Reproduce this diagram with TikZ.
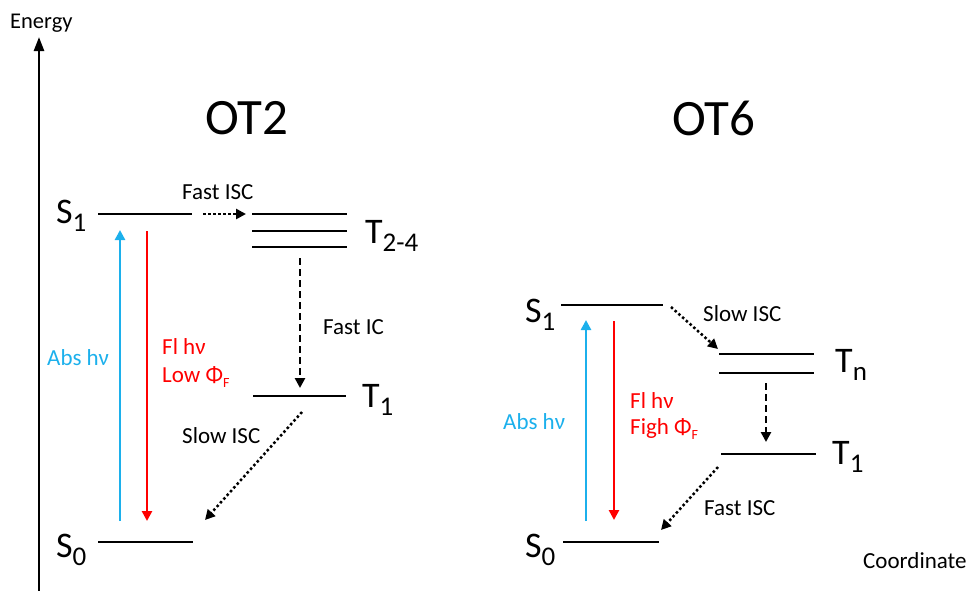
\documentclass[tikz,border=0pt]{standalone}
\usepackage{fontspec}
\setmainfont{Carlito}
\usetikzlibrary{arrows.meta}
\definecolor{absblue}{RGB}{28,176,236}
\definecolor{flred}{RGB}{255,0,0}
\newcommand\lvsub[1]{\raisebox{-8pt}{\fontsize{27}{29}\selectfont #1}}
\newcommand\phisub[1]{\raisebox{-5pt}{\fontsize{14}{16}\selectfont #1}}
\begin{document}
\begin{tikzpicture}[x=1pt,y=-1pt,
  level/.style={line width=2.8pt},
  lab/.style={font=\fontsize{23}{27}\selectfont, inner sep=0pt, anchor=base west},
  statelab/.style={font=\fontsize{36}{40}\selectfont, inner sep=0pt, anchor=base west},
  titlelab/.style={font=\fontsize{51}{56}\selectfont, inner sep=0pt},
  tipa/.style={-{Triangle[length=10pt,width=10pt]}},
  dotarrow/.style={tipa, line width=2.5pt, dash pattern=on 2.5pt off 2.5pt},
  dasharrow/.style={tipa, line width=2.5pt, dash pattern=on 7pt off 4pt},
  absarrow/.style={tipa, line width=2.8pt, draw=absblue},
  flarrow/.style={tipa, line width=2.8pt, draw=flred},
]
\useasboundingbox (0,0) rectangle (966,590);

% axis
\coordinate (axb) at (39,592);
\coordinate (axt) at (39,37);
\draw[line width=2.5pt, -{Triangle[length=14pt,width=10pt]}] (axb) -- (axt);
\node[lab, font=\fontsize{22.5}{26}\selectfont] (energy) at (10,28) {Energy};
\node[lab] (coord) at (863,568) {Coordinate};

% titles
\node[titlelab] (ot2) at (247,118) {OT2};
\node[titlelab] (ot6) at (714,118) {OT6};

% ---------- OT2 ----------
\coordinate (as1l) at (98,214);  \coordinate (as1r) at (192,214);
\coordinate (ats1l) at (252,214); \coordinate (ats1r) at (347,214);
\coordinate (ats2l) at (252,231); \coordinate (ats2r) at (347,231);
\coordinate (ats3l) at (252,247); \coordinate (ats3r) at (347,247);
\coordinate (at1l) at (253,396); \coordinate (at1r) at (346,396);
\coordinate (as0l) at (98,542);  \coordinate (as0r) at (193,542);
\foreach \a/\b in {as1l/as1r, ats1l/ats1r, ats2l/ats2r, ats3l/ats3r, at1l/at1r, as0l/as0r}
  \draw[level] (\a) -- (\b);

\node[statelab] (aS1) at (56,223) {S\lvsub{1}};
\node[statelab] (aT24) at (365,243) {T\lvsub{2-4}};
\node[statelab] (aT1) at (362,407) {T\lvsub{1}};
\node[statelab] (aS0) at (56,557) {S\lvsub{0}};

\coordinate (afs) at (203,214); \coordinate (afe) at (246,214);
\draw[dotarrow] (afs) -- (afe);
\node[lab] (afisc) at (182,199) {Fast ISC};

\coordinate (aics) at (300,258); \coordinate (aice) at (300,388);
\draw[dasharrow] (aics) -- (aice);
\node[lab] (afic) at (323,334) {Fast IC};

\coordinate (asis) at (302,412); \coordinate (asie) at (205,520);
\draw[dotarrow] (asis) -- (asie);
\node[lab] (asisc) at (182,443) {Slow ISC};

\coordinate (aabs0) at (120,521); \coordinate (aabs1) at (120,230);
\draw[absarrow] (aabs0) -- (aabs1);
\coordinate (afl0) at (147,231); \coordinate (afl1) at (147,521);
\draw[flarrow] (afl0) -- (afl1);
\node[lab, text=absblue] (aabs) at (47,365) {Abs hν};
\node[lab, text=flred] (afl) at (162,354) {Fl hν};
\node[lab, text=flred] (alow) at (162,382) {Low Φ\phisub{F}};

% ---------- OT6 ----------
\coordinate (bs1l) at (561,305); \coordinate (bs1r) at (663,305);
\coordinate (btn1l) at (719,354); \coordinate (btn1r) at (814,354);
\coordinate (btn2l) at (719,373); \coordinate (btn2r) at (814,373);
\coordinate (bt1l) at (721,454); \coordinate (bt1r) at (816,454);
\coordinate (bs0l) at (563,542); \coordinate (bs0r) at (659,542);
\foreach \a/\b in {bs1l/bs1r, btn1l/btn1r, btn2l/btn2r, bt1l/bt1r, bs0l/bs0r}
  \draw[level] (\a) -- (\b);

\node[statelab] (bS1) at (525,322) {S\lvsub{1}};
\node[statelab] (bTn) at (835,372) {T\lvsub{n}};
\node[statelab] (bT1) at (832,464) {T\lvsub{1}};
\node[statelab] (bS0) at (525,557) {S\lvsub{0}};

\coordinate (bsis) at (671,307); \coordinate (bsie) at (718,349);
\draw[dotarrow] (bsis) -- (bsie);
\node[lab] (bsisc) at (703,321) {Slow ISC};

\coordinate (bics) at (766,383); \coordinate (bice) at (766,442);
\draw[dasharrow] (bics) -- (bice);

\coordinate (bfis) at (718,467); \coordinate (bfie) at (661,530);
\draw[dotarrow] (bfis) -- (bfie);
\node[lab] (bfisc) at (704,515) {Fast ISC};

\coordinate (babs0) at (586,521); \coordinate (babs1) at (586,320);
\draw[absarrow] (babs0) -- (babs1);
\coordinate (bfl0) at (614,321); \coordinate (bfl1) at (614,520);
\draw[flarrow] (bfl0) -- (bfl1);
\node[lab, text=absblue] (babs) at (503,429) {Abs hν};
\node[lab, text=flred] (bfl) at (630,408) {Fl hν};
\node[lab, text=flred] (bhigh) at (630,434) {Figh Φ\phisub{F}};
\end{tikzpicture}
\end{document}
